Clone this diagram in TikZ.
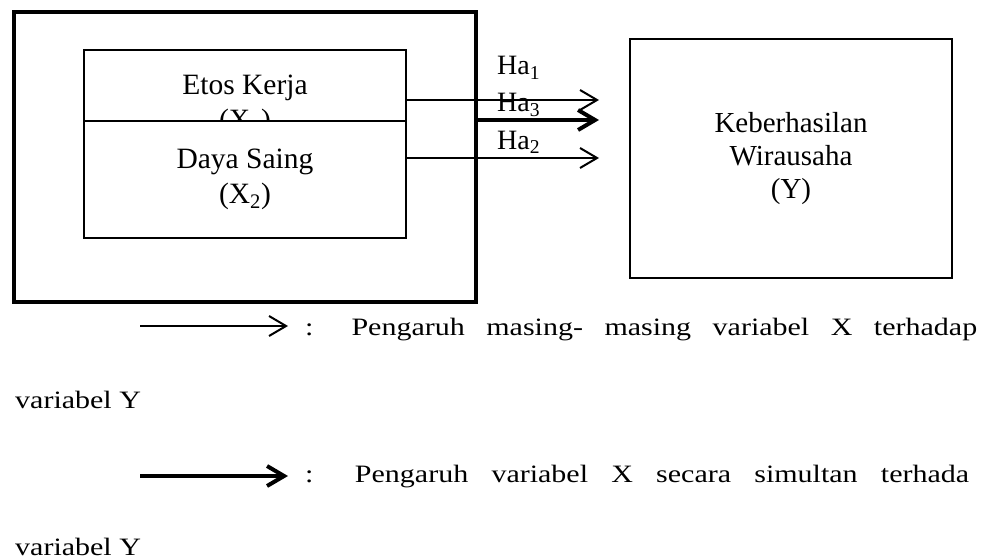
\documentclass[tikz,border=0pt]{standalone}
\usepackage{fontspec}
\setmainfont{Liberation Serif}
\newfontfamily\legendfont[FakeStretch=1.2]{Liberation Serif}
\usetikzlibrary{arrows.meta}
\tikzset{
  vbox/.style={draw, line width=2pt, align=center, inner sep=0pt,
               font=\fontsize{29.5}{35}\selectfont},
  groupbox/.style={draw, line width=4pt, inner sep=0pt},
  halabel/.style={anchor=base west, inner sep=0pt, font=\fontsize{28}{34}\selectfont},
  legtext/.style={anchor=base west, inner sep=0pt, font=\legendfont\fontsize{25}{30}\selectfont},
  flow/.style={-{Straight Barb[length=17pt, width=20pt]}, line width=2pt},
  flowb/.style={-{Straight Barb[length=17pt, width=20pt]}, line width=4pt},
}
\begin{document}
\begin{tikzpicture}[x=1pt, y=-1pt]
  \useasboundingbox (0,0) rectangle (987,559);
  % independent variables inside the group frame
  \node[groupbox, minimum width=462pt, minimum height=290pt] (grp) at (245,157) {};
  \node[vbox, minimum width=322pt, minimum height=110pt] (etos) at (245,105)
    {Etos Kerja\\(X\textsubscript{1})};
  \node[vbox, fill=white, minimum width=322pt, minimum height=117pt] (daya) at (245,179.5)
    {Daya Saing\\(X\textsubscript{2})};
  % dependent variable
  \node[vbox, minimum width=322pt, minimum height=239pt,
        font=\fontsize{29}{33}\selectfont] (kw) at (791,158.5)
    {Keberhasilan\\Wirausaha\\(Y)};
  % hypotheses
  \coordinate (t1) at (599,100);
  \coordinate (t3) at (599,120);
  \coordinate (t2) at (599,158);
  \draw[flow] (etos.east |- t1) -- (t1);
  \draw[flowb] (grp.east |- t3) -- (t3);
  \draw[flow] (daya.east |- t2) -- (t2);
  \node[halabel] (ha1) at (497,75) {Ha\textsubscript{1}};
  \node[halabel] (ha3) at (497,112) {Ha\textsubscript{3}};
  \node[halabel] (ha2) at (497,149) {Ha\textsubscript{2}};
  % legend
  \coordinate (k1a) at (140,326);
  \coordinate (k1b) at (288,326);
  \coordinate (k2a) at (140,476);
  \coordinate (k2b) at (288,476);
  \draw[flow] (k1a) -- (k1b);
  \draw[flowb] (k2a) -- (k2b);
  \node[legtext] (leg1) at (305,335)
    {\makebox[672pt][s]{: Pengaruh masing- masing variabel X terhadap}};
  \node[legtext] (leg1b) at (15,408) {variabel Y};
  \node[legtext] (leg2) at (305,482)
    {\makebox[664pt][s]{: Pengaruh variabel X secara simultan terhada}};
  \node[legtext] (leg2b) at (15,555) {variabel Y};
\end{tikzpicture}
\end{document}
